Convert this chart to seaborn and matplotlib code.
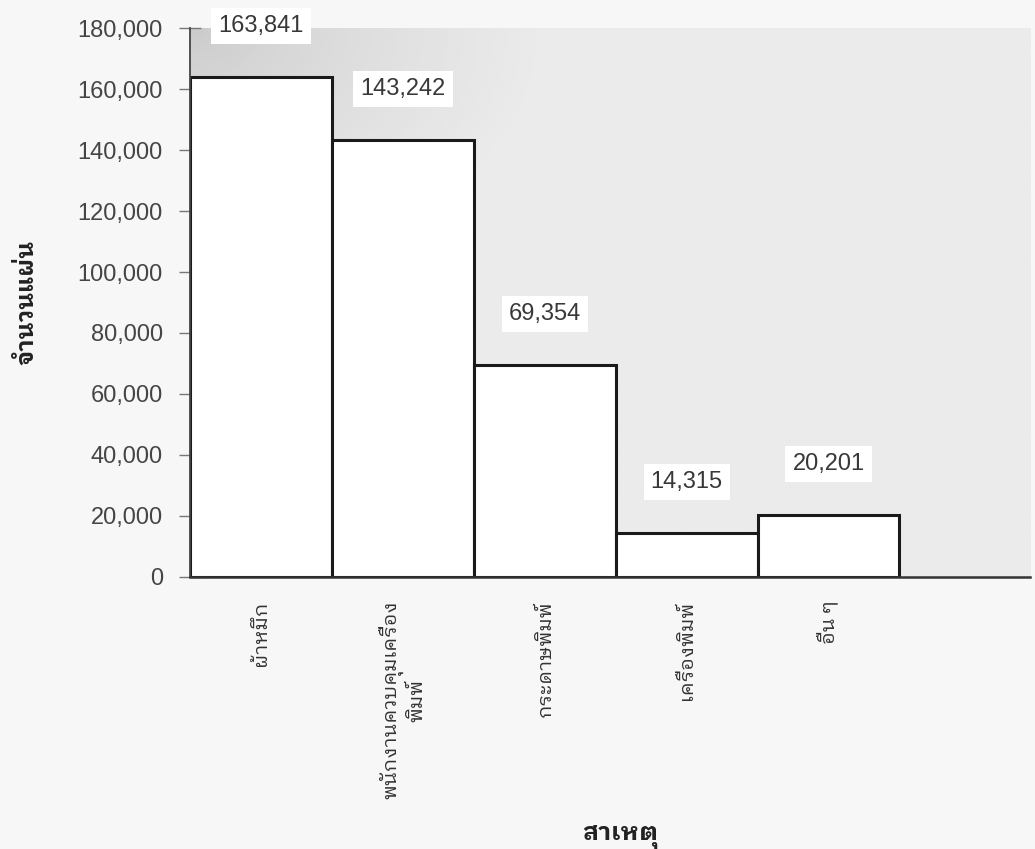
import matplotlib
matplotlib.use("Agg")
import matplotlib.pyplot as plt
from matplotlib import font_manager
from matplotlib.ticker import FuncFormatter
import numpy as np
import pandas as pd
import seaborn as sns

# Causes of wasted sheets and the number of sheets for each
causes = ["ผ้าหมึก", "พนักงานควบคุมเครื่อง\nพิมพ์", "กระดาษพิมพ์", "เครื่องพิมพ์", "อื่น ๆ"]
sheets = [163841, 143242, 69354, 14315, 20201]
y_ticks = [0, 20000, 40000, 60000, 80000, 100000, 120000, 140000, 160000, 180000]
y_title = "จำนวนแผ่น"
x_title = "สาเหตุ"


def find_thai_family():
    """Return the name of an installed family that covers Thai script."""
    try:
        from fontTools.ttLib import TTFont
    except Exception:
        return None
    ranked = []
    for entry in font_manager.fontManager.ttflist:
        try:
            tt = TTFont(entry.fname, fontNumber=0, lazy=True)
            cmap = tt.getBestCmap() or {}
        except Exception:
            continue
        if 0x0E01 in cmap and 0x0E2A in cmap and 0x0E33 in cmap:
            name = entry.name
            if "Looped" in name:
                rank = 0
            elif any(k in name for k in ("Loma", "Garuda", "Tlwg", "Norasi")):
                rank = 1
            elif "Thai" in name:
                rank = 2
            else:
                rank = 3
            ranked.append((rank, name))
    ranked.sort()
    return ranked[0][1] if ranked else None


sns.set_theme(style="white")
thai = find_thai_family()
thai_fonts = ([thai] if thai else []) + ["DejaVu Sans"]
latin_fonts = ["Liberation Sans", "DejaVu Sans"]
plt.rcParams["font.family"] = latin_fonts

df = pd.DataFrame({"cause": causes, "sheets": sheets})

fig = plt.figure(figsize=(10.35, 8.49), dpi=100)
fig.patch.set_facecolor("#f7f7f7")
ax = fig.add_axes([0.1836, 0.3204, 0.8116, 0.6466])

# Shaded plot background, darker toward the upper-left corner
gx, gy = np.meshgrid(np.linspace(0, 1, 300), np.linspace(0, 1, 200))
dist = np.sqrt((gx / 0.42) ** 2 + ((1 - gy) / 0.45) ** 2)
shade = 0.79 + 0.13 * np.clip(dist, 0, 1) ** 0.7
ax.imshow(shade, cmap="gray", vmin=0, vmax=1, origin="lower",
          extent=[0, 1, 0, 1], transform=ax.transAxes, aspect="auto", zorder=0)

sns.barplot(data=df, x="cause", y="sheets", color="white", saturation=1,
            edgecolor="#1a1a1a", linewidth=2.2, width=1.0, ax=ax, zorder=2)

ax.set_xlim(-0.5, 5.42)
ax.set_ylim(0, 180000)
ax.set_yticks(y_ticks)
ax.yaxis.set_major_formatter(FuncFormatter(lambda v, p: f"{int(v):,}"))

for side in ("top", "right"):
    ax.spines[side].set_visible(False)
ax.spines["left"].set_color("#444444")
ax.spines["left"].set_linewidth(1.3)
ax.spines["bottom"].set_color("#333333")
ax.spines["bottom"].set_linewidth(1.8)

ax.tick_params(axis="y", direction="inout", length=16, width=1.0, color="#777777",
               labelsize=17, labelcolor="#454545", pad=11.5, left=True)
ax.tick_params(axis="x", length=0, pad=17)
ax.set_xticks(range(len(causes)))
ax.set_xticklabels(causes, rotation=90, va="top", ha="center", ma="center",
                   family=thai_fonts, fontsize=14.4, color="#333333")

# Value labels above each bar on a white box
for i, v in enumerate(sheets):
    ax.annotate(f"{v:,}", xy=(i, v), xytext=(0, 37), textcoords="offset points",
                ha="center", va="center", fontsize=17, color="#383838",
                bbox=dict(boxstyle="square,pad=0.3", fc="white", ec="none"),
                zorder=5, annotation_clip=False)

ax.set_ylabel(y_title, family=thai_fonts, fontsize=17, fontweight="bold", color="#222222")
ax.yaxis.set_label_coords(-0.181, 0.5)
ax.set_xlabel(x_title, family=thai_fonts, fontsize=18, fontweight="bold", color="#222222")
ax.xaxis.set_label_coords(0.512, -0.452)

fig.savefig("out.png", dpi=100, facecolor=fig.get_facecolor())
